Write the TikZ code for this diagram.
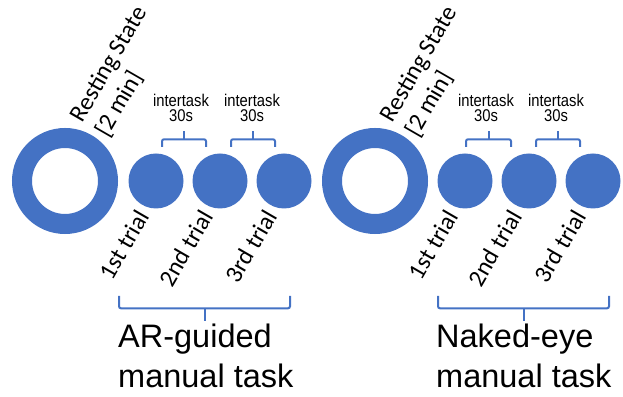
\documentclass[tikz,border=0pt]{standalone}
\usepackage{fontspec}
\setmainfont{Liberation Sans}
\newfontfamily\calfont{Carlito}
\newfontfamily\gapfont[FakeStretch=0.87]{Liberation Sans}
\usepackage{xcolor}
\usepackage{tikz}

\definecolor{sessblue}{HTML}{4472C4}

\tikzset{
  restring/.style={circle, draw=sessblue, line width=20pt, minimum size=86pt, inner sep=0pt},
  trialdisk/.style={circle, fill=sessblue, minimum size=55pt, inner sep=0pt},
  triallabel/.style={rotate=60, anchor=base east, inner sep=0pt, font=\calfont\fontsize{24.5}{30}\selectfont},
  restlabel/.style={rotate=60, anchor=south west, align=left, inner sep=0pt, font=\calfont\fontsize{24.5}{29}\selectfont},
  gapnote/.style={anchor=south, align=center, inner sep=0pt, font=\gapfont\fontsize{17}{15.6}\selectfont},
  tasknote/.style={anchor=south west, align=left, inner sep=0pt, font=\fontsize{32.5}{40}\selectfont},
  bracket/.style={draw=sessblue, line width=2pt, rounded corners=2pt}
}

\begin{document}
\begin{tikzpicture}[x=1pt,y=1pt]
  \useasboundingbox (0,0) rectangle (623,396);

  % AR-guided block
  \node[restring] (rest1) at (65,215) {};
  \foreach \n/\x in {1/156,2/220,3/284} {
    \node[trialdisk] (ar\n) at (\x,215) {};
  }
  \foreach \n/\t in {1/1st,2/2nd,3/3rd} {
    \node[triallabel] at ([shift={(-6,-35)}]ar\n.center) {\t{} trial};
  }
  \node[restlabel] (restnote1) at (111,256) {Resting State\\{[2 min]}};

  % Naked-eye block
  \node[restring] (rest2) at (375,215) {};
  \foreach \n/\x in {1/465,2/529,3/593} {
    \node[trialdisk] (ne\n) at (\x,215) {};
  }
  \foreach \n/\t in {1/1st,2/2nd,3/3rd} {
    \node[triallabel] at ([shift={(-6,-35)}]ne\n.center) {\t{} trial};
  }
  \node[restlabel] (restnote2) at (421,256) {Resting State\\{[2 min]}};

  % intertask braces
  \foreach \a/\b in {162/206,231/275,466/511,536/580} {
    \draw[bracket] (\a,249) |- (\b,256.7) -- (\b,249);
    \draw[bracket] ({(\a+\b)/2},256.7) -- ({(\a+\b)/2},265.3);
  }
  \foreach \x in {181,252,486,556} {
    \node[gapnote] at (\x,273.7) {intertask\\30s};
  }

  % task braces
  \foreach \a/\b in {119/290,438/609} {
    \draw[bracket] (\a,100) |- (\b,87.7) -- (\b,100);
    \draw[bracket] ({(\a+\b)/2},87.7) -- ({(\a+\b)/2},75);
  }
  \node[tasknote] (task1) at (118,7.7) {AR-guided\\manual task};
  \node[tasknote] (task2) at (436,7.7) {Naked-eye\\manual task};
\end{tikzpicture}
\end{document}
